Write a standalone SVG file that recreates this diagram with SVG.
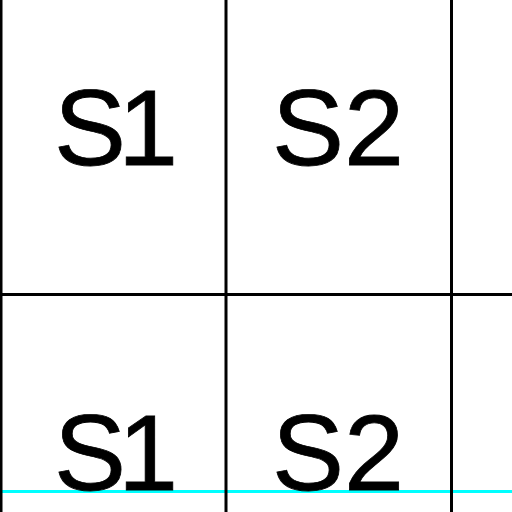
<svg xmlns="http://www.w3.org/2000/svg" width="512" height="512" viewBox="0 0 512 512">
<style>
.g{stroke:#000;stroke-width:3;fill:none}
.t{font-family:"Liberation Sans",Arial,sans-serif;font-size:108px;fill:#000;stroke:#000;stroke-width:0.8}
.s1{letter-spacing:-8px}
</style>
<rect width="512" height="512" fill="#fff"/>
<line x1="0" y1="491.5" x2="512" y2="491.5" stroke="#00ffff" stroke-width="3"/>
<g id="grid">
<line class="g" x1="1" y1="0" x2="1" y2="512"/>
<line class="g" x1="226" y1="0" x2="226" y2="512"/>
<line class="g" x1="451.5" y1="0" x2="451.5" y2="512"/>
<line class="g" x1="0" y1="294.5" x2="512" y2="294.5"/>
</g>
<g id="r1c1"><text class="t s1" x="54" y="165">S1</text></g>
<g id="r1c2"><text class="t" x="272" y="165">S2</text></g>
<g id="r2c1"><text class="t s1" x="54" y="490">S1</text></g>
<g id="r2c2"><text class="t" x="272" y="490">S2</text></g>
</svg>
